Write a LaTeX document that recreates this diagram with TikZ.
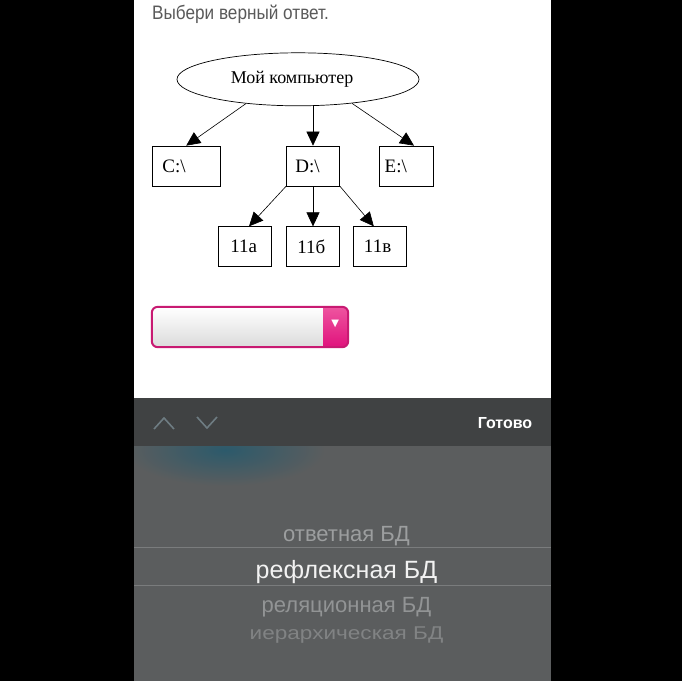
\documentclass[tikz,border=0pt]{standalone}
\usepackage{fontspec}
\setmainfont{Liberation Sans}
\newfontfamily\diagfont{Liberation Serif}
\newfontfamily\symfont{DejaVu Sans}
\usepackage{tikz}
\usetikzlibrary{positioning,arrows.meta,calc,shapes.geometric}
\definecolor{headGray}{HTML}{5A5A5A}
\definecolor{barGray}{HTML}{404243}
\definecolor{panelGray}{HTML}{5B5D5E}
\definecolor{blobTeal}{HTML}{2C5A6B}
\definecolor{pinkEdge}{HTML}{C81A72}
\definecolor{pinkTop}{HTML}{EE55A0}
\definecolor{pinkBot}{HTML}{E0127C}
\definecolor{chevron}{HTML}{6E7C82}
\definecolor{rowLine}{HTML}{7A7C7D}
\definecolor{optA}{HTML}{9C9E9F}
\definecolor{optSel}{HTML}{F2F2F2}
\definecolor{optB}{HTML}{929495}
\definecolor{optC}{HTML}{818384}
\tikzset{
  x=1pt, y=-1pt,
  rootnode/.style={ellipse, draw, line width=0.7pt, minimum width=242pt,
                   minimum height=53pt, inner sep=0pt,
                   font=\diagfont\fontsize{18}{18}\selectfont},
  dirbox/.style  ={rectangle, draw, line width=0.7pt, minimum height=40pt,
                   align=left, font=\diagfont\fontsize{19}{19}\selectfont},
  % tree connector with the big filled head of the scanned figure
  link/.style    ={draw, line width=0.6pt, -{Triangle[length=14pt,width=13pt]}},
  combo/.style   ={rectangle, rounded corners=6pt, minimum width=196pt,
                   minimum height=40pt, top color=white, bottom color=gray!28},
  rowtext/.style ={anchor=base, inner sep=0pt},
  >=Stealth,
}
\def\dirlist{%
  C/186.2/166/67.7/10/C:\textbackslash,
  D/313/166/53.4/9/D:\textbackslash,
  E/406.5/166/53.6/5/E:\textbackslash,
  pa/245/246.7/53.4/12/11а,
  pb/313/246.7/53.4/11/11б,
  pv/379.8/246.7/53.7/11/11в}
\def\rowlist{%
  rA/541/22/1/optA/ответная БД,
  rSel/578/25/1/optSel/рефлексная БД,
  rB/612/22/1/optB/реляционная БД,
  rC/639/18.5/1.22/optC/иерархическая БД}

\begin{document}
\begin{tikzpicture}
% --- phone frame ---
\fill[black] (0,0) rectangle (682,681);
\fill[white] (134,0) rectangle (551,398);
\fill[barGray] (134,398) rectangle (551,446);
\fill[panelGray] (134,446) rectangle (551,681);
\begin{scope}
  \clip (134,446) rectangle (551,681);
  \shade[inner color=blobTeal, outer color=panelGray]
    (225,450) ellipse [x radius=100pt, y radius=36pt];
\end{scope}
\node[anchor=base west, inner sep=0pt, text=headGray,
      font=\fontsize{19.5}{19.5}\selectfont] (head) at (152,19)
  {\scalebox{0.88}[1]{Выбери верный ответ.}};
% --- tree ---
\node[rootnode] (mycomp) at (298,79.3) {\hspace*{-12pt}Мой компьютер};
\foreach \n/\x/\y/\w/\p/\lab [evaluate={\tw=\w-2*\p;}] in \dirlist
  {\node[dirbox, inner xsep=\p pt, text width=\tw pt] (\n) at (\x,\y) {\lab};}
\draw[link] (mycomp.205) -- (C.north);
\draw[link] (mycomp.south -| D.north) -- (D.north);
\draw[link] (mycomp.336) -- ([xshift=7.5pt]E.north);
\draw[link] (D.south west) -- ([xshift=4pt]pa.north);
\draw[link] (D.south) -- (pb.north);
\draw[link] (D.south east) -- ([xshift=-6pt]pv.north);
% --- select box ---
\node[combo] (sel) at (250,327) {};
\begin{scope}
  \clip[rounded corners=6pt] (sel.north west) rectangle (sel.south east);
  \shade[top color=pinkTop, bottom color=pinkBot]
    ([xshift=-25pt]sel.north east) rectangle (sel.south east);
\end{scope}
\draw[pinkEdge, line width=2pt, rounded corners=6pt]
  (sel.north west) rectangle (sel.south east);
\node[text=white, inner sep=0pt, font=\symfont\fontsize{10}{10}\selectfont]
  (caret) at ([xshift=-13pt,yshift=3pt]sel.east) {▼};
% --- picker bar ---
\draw[chevron, line width=1.6pt] (154,429) -- (164,418) -- (174,429);
\draw[chevron, line width=1.6pt] (197,417) -- (207,428) -- (217,417);
\node[rowtext, text=white, font=\bfseries\fontsize{16}{16}\selectfont]
  (done) at (505,428) {Готово};
\draw[rowLine, line width=0.6pt] (134,547) -- (551,547);
\draw[rowLine, line width=0.6pt] (134,585) -- (551,585);
\foreach \n/\y/\s/\k/\c/\t in \rowlist
  {\node[rowtext, text=\c, font=\fontsize{\s}{\s}\selectfont] (\n) at (346.5,\y)
     {\scalebox{\k}[1]{\t}};}
\end{tikzpicture}
\end{document}
